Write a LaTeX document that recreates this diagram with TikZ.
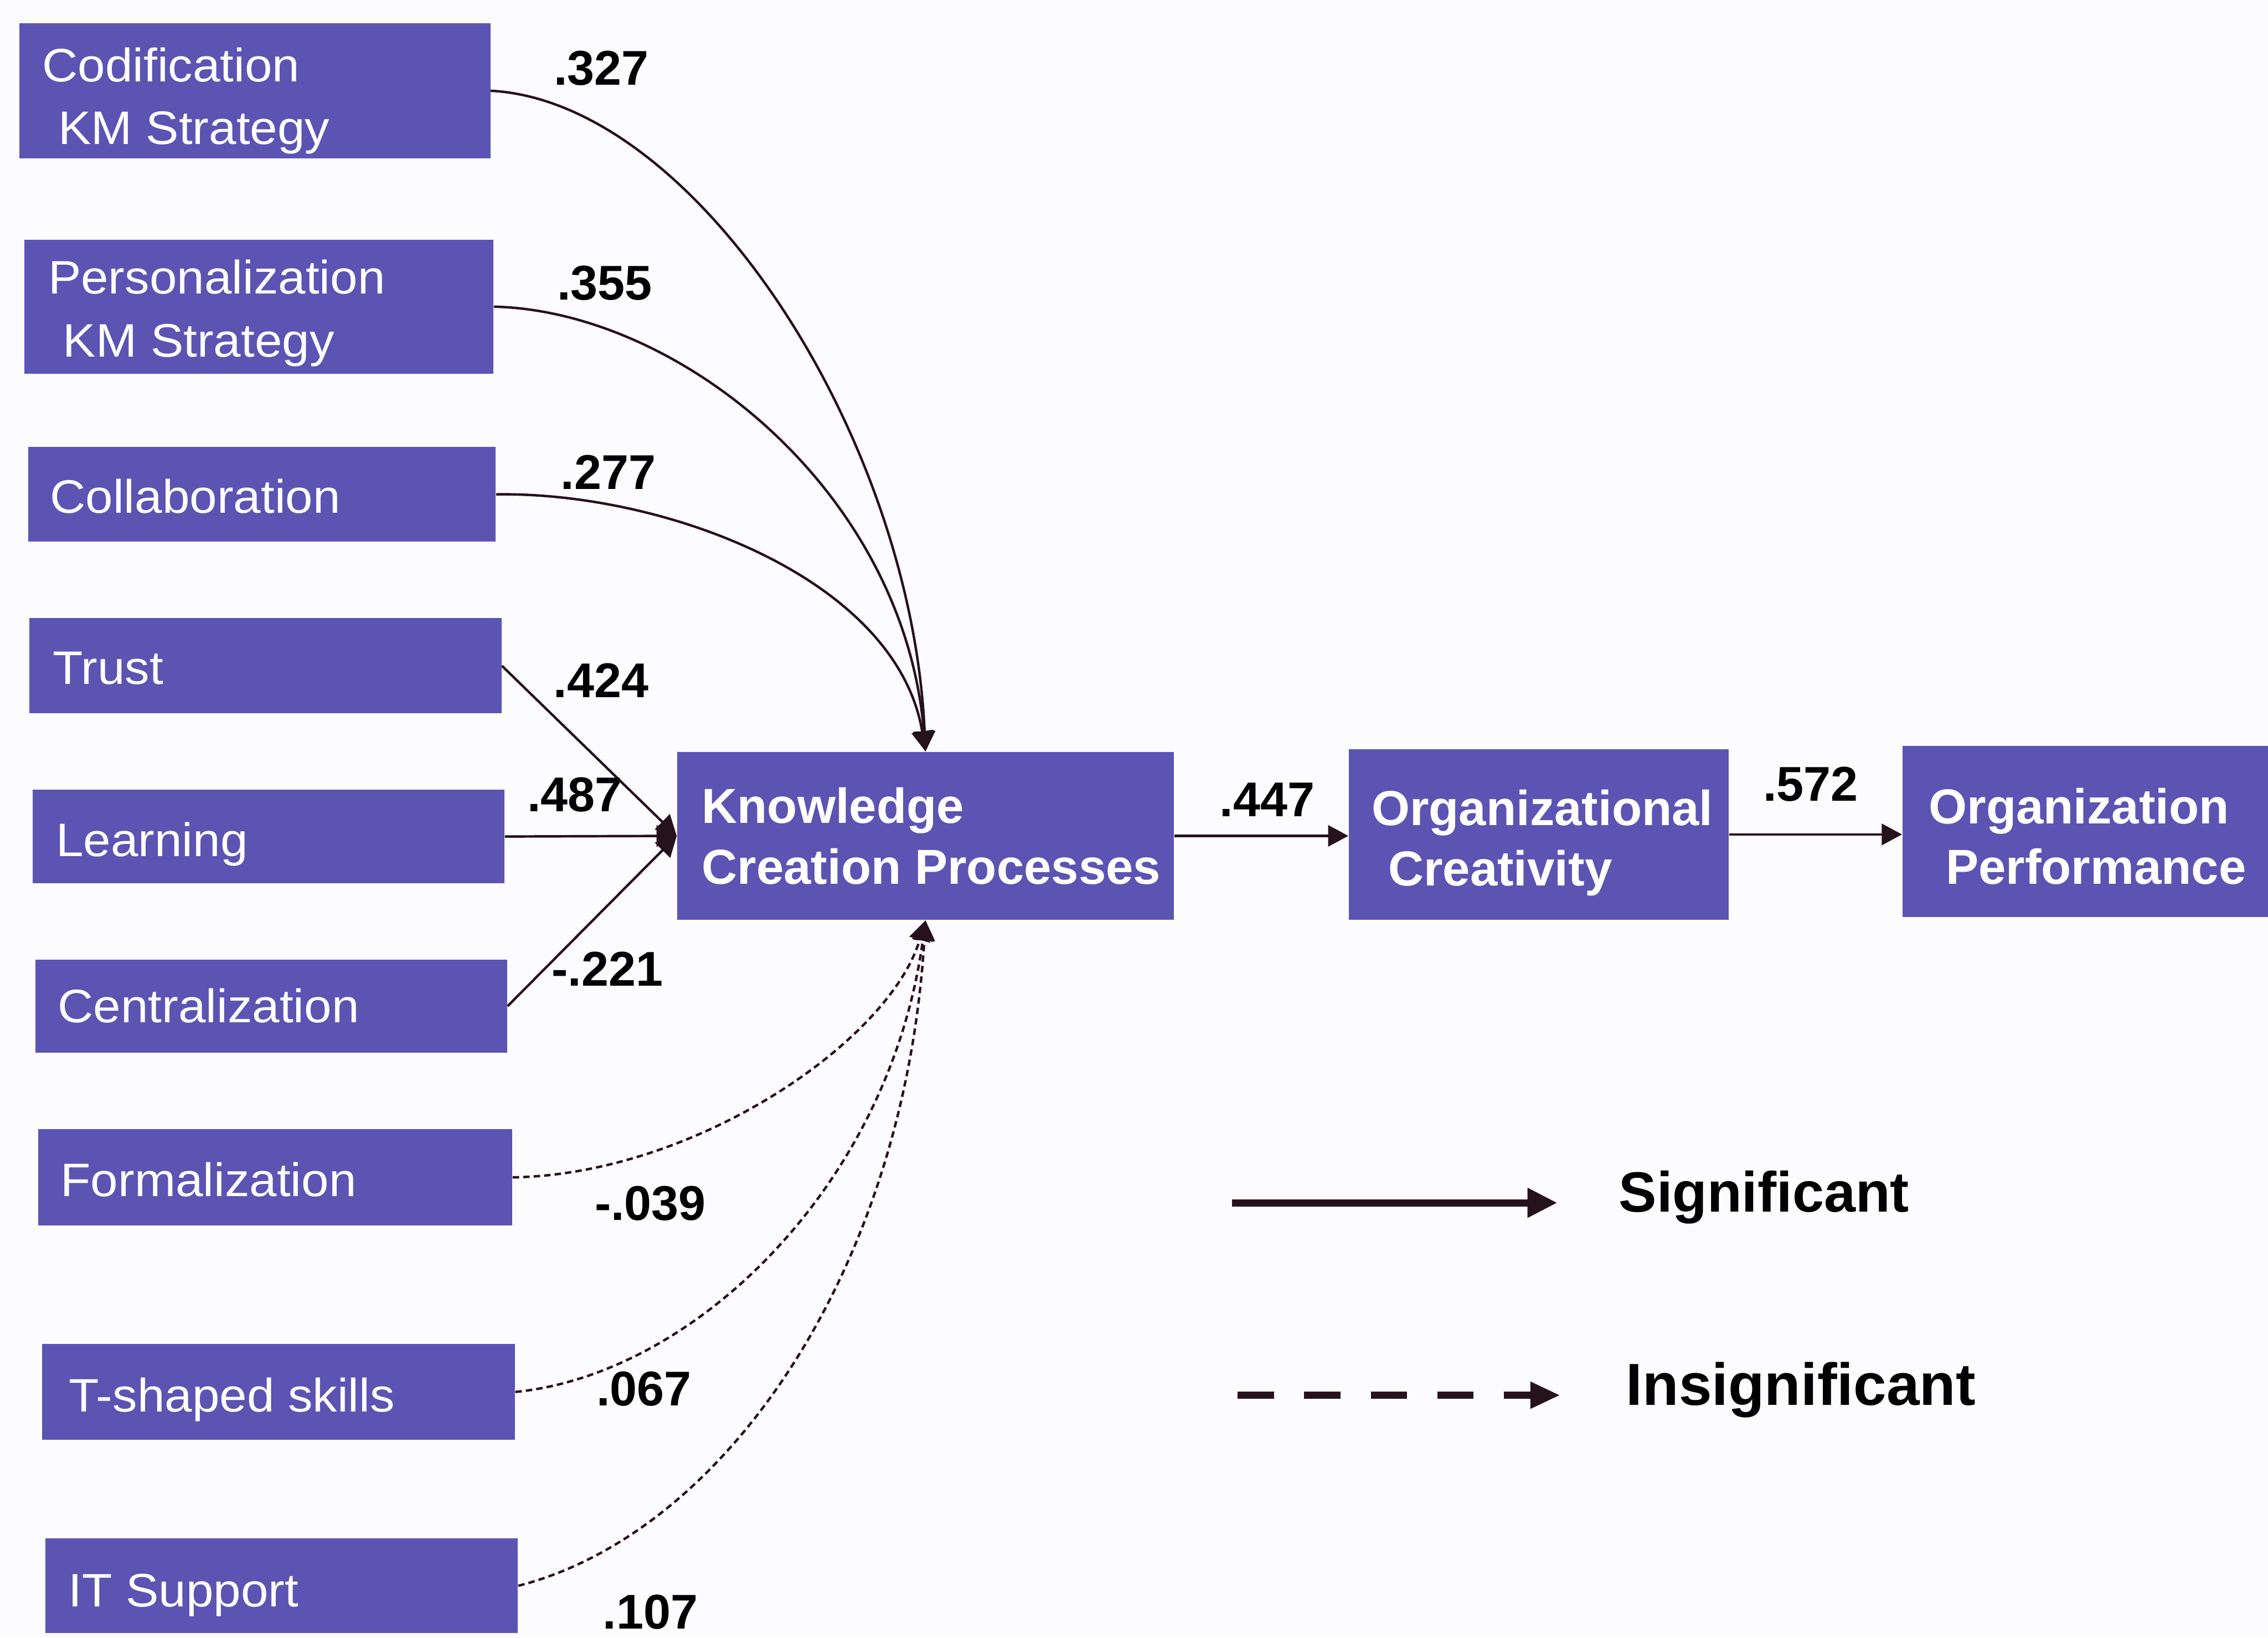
\documentclass[tikz,border=0pt]{standalone}
\usepackage{fontspec}
\setmainfont{Liberation Sans}
\newfontfamily\boxfont[FakeStretch=1.05]{Liberation Sans}
\usetikzlibrary{arrows.meta,fit}

\definecolor{boxfill}{RGB}{92,84,178}
\definecolor{ink}{RGB}{38,18,26}
\definecolor{paper}{RGB}{252,251,254}

\begin{document}
\begin{tikzpicture}[x=0.03cm, y=-0.03cm,
  box/.style={fill=boxfill, draw=none, inner sep=0pt},
  boxtxt/.style={text=white, inner sep=0pt, anchor=base west,
    font=\boxfont\fontsize{27.7}{33}\selectfont},
  boldtxt/.style={text=white, inner sep=0pt, anchor=base west,
    font=\fontsize{29}{35}\selectfont\bfseries},
  coef/.style={inner sep=0pt, text=black,
    font=\fontsize{28.8}{34}\selectfont\bfseries},
  legtxt/.style={inner sep=0pt, text=black, anchor=base west},
  sig/.style={draw=ink, line width=1.45pt,
    -{Triangle[length=0.42cm,width=0.44cm]}},
  insig/.style={sig, dash pattern=on 3.8pt off 2.4pt},
]
\clip (0,0) rectangle (1568,1132);
\fill[paper] (0,0) rectangle (1568,1132);

% ---- antecedent boxes ----
\node[box, fit={(13.5,16) (339,109.5)}] (cod) {};
\node[box, fit={(16.7,165.6) (341.2,258.4)}] (per) {};
\node[box, fit={(19.5,309) (342.8,374.5)}] (col) {};
\node[box, fit={(20.1,427.4) (346.8,493.2)}] (tru) {};
\node[box, fit={(22.6,546) (348.8,610.6)}] (lea) {};
\node[box, fit={(24.6,663.4) (350.7,727.7)}] (cen) {};
\node[box, fit={(26.5,780.5) (354.2,847.3)}] (frm) {};
\node[box, fit={(29,929.1) (356.1,995.4)}] (tsh) {};
\node[box, fit={(31.4,1063.5) (358.1,1129)}] (its) {};

\node[boxtxt] (codA) at (29,56.4) {Codification};
\node[boxtxt] (codB) at (40.2,99.9) {KM Strategy};
\node[boxtxt] (perA) at (33.1,203.2) {Personalization};
\node[boxtxt] (perB) at (43.4,246.7) {KM Strategy};
\node[boxtxt] (colA) at (34.4,354.8) {Collaboration};
\node[boxtxt] (truA) at (36.3,473) {Trust};
\node[boxtxt] (leaA) at (38.5,592) {Learning};
\node[boxtxt] (cenA) at (39.8,707) {Centralization};
\node[boxtxt] (frmA) at (41.7,827.2) {Formalization};
\node[boxtxt] (tshA) at (47.4,975.8) {T-shaped skills};
\node[boxtxt] (itsA) at (47,1110.9) {IT Support};

% ---- outcome chain ----
\node[box, fit={(468.1,519.7) (811.6,636)}] (kcp) {};
\node[box, fit={(932.4,518) (1195.3,635.7)}] (oc) {};
\node[box, fit={(1315.2,515.7) (1600,634)}] (op) {};

\node[boldtxt] (kcpA) at (485,569) {Knowledge};
\node[boldtxt] (kcpB) at (485,611.3) {Creation Processes};
\node[boldtxt] (ocA) at (948,570.4) {Organizational};
\node[boldtxt] (ocB) at (959.5,612.3) {Creativity};
\node[boldtxt] (opA) at (1333.3,569.3) {Organization};
\node[boldtxt] (opB) at (1345,611.2) {Performance};

% ---- significant paths ----
\draw[sig] (cod.east) .. controls (480,70) and (630,300) .. (kcp.north);
\draw[sig] (per.east) .. controls (470,215) and (625,340) .. (kcp.north);
\draw[sig] (col.east) .. controls (460,340) and (620,400) .. (kcp.north);
\draw[sig] (tru.east) -- (kcp.west);
\draw[sig] (lea.east) -- (kcp.west);
\draw[sig] (cen.east) -- (kcp.west);
\draw[sig] (kcp.east) -- (kcp.east -| oc.west);
\draw[sig] (oc.east) -- (oc.east -| op.west);

% ---- insignificant paths ----
\draw[insig] (frm.east) .. controls (480,812) and (615,720) .. (kcp.south);
\draw[insig] (tsh.east) .. controls (480,950) and (615,820) .. (kcp.south);
\draw[insig] (its.east) .. controls (500,1060) and (625,880) .. (kcp.south);

% ---- path coefficients ----
\node[coef] (c1) at (415.7,47) {.327};
\node[coef] (c2) at (418,195.6) {.355};
\node[coef] (c3) at (420.5,326.5) {.277};
\node[coef] (c4) at (415.5,470.5) {.424};
\node[coef] (c5) at (397.4,549.4) {.487};
\node[coef] (c6) at (419.8,670) {-.221};
\node[coef] (c7) at (449.6,832) {-.039};
\node[coef] (c8) at (445.3,960) {.067};
\node[coef] (c9) at (449.6,1114.5) {.107};
\node[coef] (c10) at (876,553) {.447};
\node[coef] (c11) at (1251.7,542) {.572};

% ---- legend ----
\coordinate (sigA) at (851.8,831.5);
\coordinate (sigB) at (1076.7,831.5);
\coordinate (insA) at (855.7,964.5);
\coordinate (insB) at (1078.7,964.5);
\draw[draw=ink, line width=4.3pt, -{Triangle[length=0.62cm,width=0.58cm]}] (sigA) -- (sigB);
\draw[draw=ink, line width=4.3pt, dash pattern=on 0.75cm off 0.63cm,
  -{Triangle[length=0.62cm,width=0.52cm]}] (insA) -- (insB);
\node[legtxt, font=\fontsize{33.5}{40}\selectfont\bfseries] (sigT) at (1119,837.6) {Significant};
\node[legtxt, font=\fontsize{35}{42}\selectfont\bfseries] (insT) at (1124,971.2) {Insignificant};
\end{tikzpicture}
\end{document}
